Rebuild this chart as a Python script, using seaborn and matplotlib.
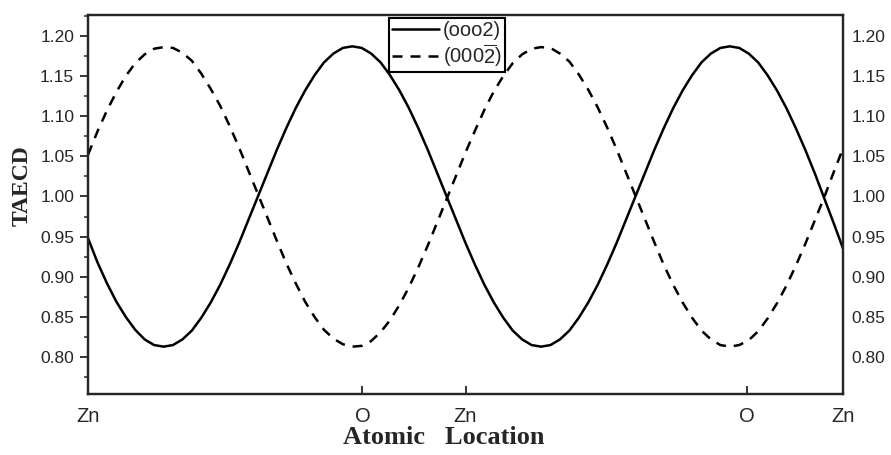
import matplotlib
matplotlib.use("Agg")
import matplotlib.pyplot as plt
from matplotlib.ticker import MultipleLocator, FormatStrFormatter
import seaborn as sns
import pandas as pd

# atomic position along the c-axis (Zn layers at 0, 1, 2)
position = [0.000, 0.025, 0.050, 0.075, 0.100, 0.125, 0.150, 0.175, 0.200, 0.225,
            0.250, 0.275, 0.300, 0.325, 0.350, 0.375, 0.400, 0.425, 0.450, 0.475,
            0.500, 0.525, 0.550, 0.575, 0.600, 0.625, 0.650, 0.675, 0.700, 0.725,
            0.750, 0.775, 0.800, 0.825, 0.850, 0.875, 0.900, 0.925, 0.950, 0.975,
            1.000, 1.025, 1.050, 1.075, 1.100, 1.125, 1.150, 1.175, 1.200, 1.225,
            1.250, 1.275, 1.300, 1.325, 1.350, 1.375, 1.400, 1.425, 1.450, 1.475,
            1.500, 1.525, 1.550, 1.575, 1.600, 1.625, 1.650, 1.675, 1.700, 1.725,
            1.750, 1.775, 1.800, 1.825, 1.850, 1.875, 1.900, 1.925, 1.950, 1.975,
            2.000]

taecd_0002 = [0.948, 0.918, 0.892, 0.869, 0.850, 0.834, 0.822, 0.815, 0.813, 0.815,
              0.822, 0.833, 0.849, 0.868, 0.890, 0.915, 0.942, 0.971, 1.000, 1.029,
              1.058, 1.085, 1.110, 1.132, 1.151, 1.167, 1.178, 1.185, 1.187, 1.185,
              1.178, 1.167, 1.151, 1.132, 1.110, 1.085, 1.058, 1.029, 1.000, 0.971,
              0.942, 0.915, 0.890, 0.868, 0.849, 0.833, 0.822, 0.815, 0.813, 0.815,
              0.822, 0.833, 0.849, 0.868, 0.890, 0.915, 0.942, 0.971, 1.000, 1.029,
              1.058, 1.085, 1.110, 1.132, 1.151, 1.167, 1.178, 1.185, 1.187, 1.185,
              1.178, 1.167, 1.151, 1.132, 1.110, 1.085, 1.058, 1.029, 0.998, 0.967,
              0.935]

taecd_000bar2 = [1.052, 1.081, 1.107, 1.130, 1.150, 1.166, 1.177, 1.184, 1.186, 1.185,
                 1.179, 1.169, 1.153, 1.134, 1.113, 1.088, 1.061, 1.032, 1.003, 0.974,
                 0.945, 0.917, 0.892, 0.869, 0.850, 0.834, 0.823, 0.816, 0.813, 0.814,
                 0.820, 0.831, 0.846, 0.865, 0.887, 0.912, 0.939, 0.968, 0.997, 1.026,
                 1.055, 1.082, 1.108, 1.131, 1.150, 1.166, 1.177, 1.184, 1.186, 1.185,
                 1.178, 1.168, 1.152, 1.133, 1.111, 1.086, 1.059, 1.030, 1.001, 0.972,
                 0.943, 0.915, 0.890, 0.868, 0.849, 0.833, 0.822, 0.815, 0.813, 0.815,
                 0.821, 0.832, 0.848, 0.867, 0.889, 0.914, 0.941, 0.970, 0.999, 1.030,
                 1.060]

atom_ticks = [0.0, 0.727, 1.0, 1.745, 2.0]
atom_labels = ["Zn", "O", "Zn", "O", "Zn"]

sns.set_style("ticks")
plt.rcParams['font.family'] = ['Liberation Sans', 'DejaVu Sans']
plt.rcParams['mathtext.fontset'] = 'custom'
plt.rcParams['mathtext.rm'] = 'Liberation Sans'

df = pd.DataFrame({'pos': position, 'a': taecd_0002, 'b': taecd_000bar2})

fig = plt.figure(figsize=(8.91, 4.55), dpi=100)
ax = fig.add_axes([0.0988, 0.134, 0.8474, 0.833])

sns.lineplot(data=df, x='pos', y='a', ax=ax, color='black', lw=1.8, label='(ooo2)')
sns.lineplot(data=df, x='pos', y='b', ax=ax, color='black', lw=1.8,
             dashes=(4.0, 3.2), label=r'(000$\mathregular{\overline{2}}$)')

ax.set_xlim(0, 2)
ax.set_ylim(0.754, 1.226)
ax.yaxis.set_major_locator(MultipleLocator(0.05))
ax.yaxis.set_minor_locator(MultipleLocator(0.025))
ax.yaxis.set_major_formatter(FormatStrFormatter('%.2f'))
ax.tick_params(axis='y', which='major', direction='out', length=6, width=1.3, labelsize=12.5, pad=4)
ax.tick_params(axis='y', which='minor', direction='out', length=3, width=1.1)

ax.set_xticks(atom_ticks)
ax.set_xticklabels(atom_labels)
ax.tick_params(axis='x', direction='in', length=6, width=1.3, labelsize=14.5, pad=9)

for s in ax.spines.values():
    s.set_linewidth(1.6)

ax2 = ax.twinx()
ax2.set_ylim(ax.get_ylim())
ax2.yaxis.set_major_locator(MultipleLocator(0.05))
ax2.yaxis.set_major_formatter(FormatStrFormatter('%.2f'))
ax2.tick_params(axis='y', length=0, labelsize=12.5, pad=6)
for s in ax2.spines.values():
    s.set_linewidth(1.6)

ax.set_xlabel("Atomic   Location", family='Liberation Serif', fontweight='bold', fontsize=19)
ax.set_ylabel("TAECD", family='Liberation Serif', fontweight='bold', fontsize=17)
ax.xaxis.set_label_coords(0.471, -0.116)
ax.yaxis.set_label_coords(-0.087, 0.549)
ax.xaxis.label.set_va('center')
ax.yaxis.label.set_va('center')

leg = ax.legend(loc='upper left', bbox_to_anchor=(0.399, 0.992), borderaxespad=0,
                fancybox=False, edgecolor='black', framealpha=1, fontsize=14.5,
                handlelength=2.3, handletextpad=0.2, borderpad=0.15, labelspacing=0.1)
leg.get_frame().set_linewidth(1.5)

fig.savefig("out.png", dpi=100)
